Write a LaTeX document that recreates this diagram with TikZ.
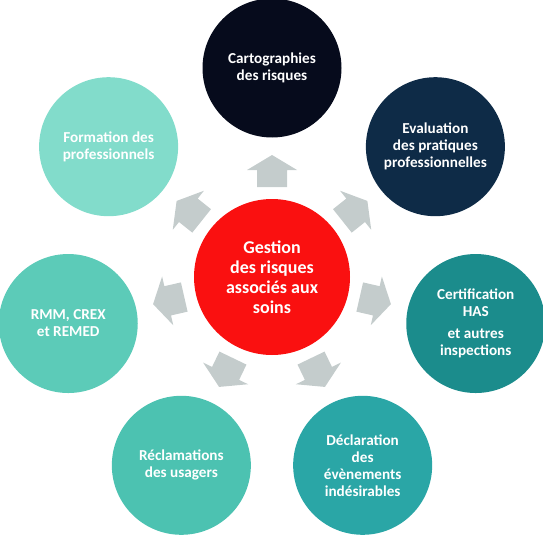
\documentclass[tikz,border=0pt]{standalone}
\usepackage{fontspec}
\setmainfont{Carlito}
\usetikzlibrary{calc}
\definecolor{cTop}{HTML}{060B1C}
\definecolor{cEval}{HTML}{0E2B47}
\definecolor{cCert}{HTML}{1B8C8C}
\definecolor{cDecl}{HTML}{2AA6A6}
\definecolor{cRecl}{HTML}{4CC2B1}
\definecolor{cRmm}{HTML}{5CCBB8}
\definecolor{cForm}{HTML}{82DCCB}
\definecolor{cRed}{HTML}{FA1010}
\definecolor{cArrow}{HTML}{C4CCCC}
\begin{document}
\begin{tikzpicture}[x=1pt,y=1pt,
  outer/.style={circle,minimum size=139pt,inner sep=0pt,text=white,align=center,
    font=\fontsize{15.2}{17}\selectfont\bfseries},
  hub/.style={circle,minimum size=156pt,inner sep=0pt,text=white,align=center,fill=cRed,
    font=\fontsize{18}{20}\selectfont\bfseries},
  blockarrow/.style={fill=cArrow,draw=none}]
\useasboundingbox (0,0) rectangle (543,542);
\coordinate (c) at (272,265);
\node[hub] (hub) at (c) {Gestion\\des risques\\associés aux\\soins};
\node[outer,fill=cTop]  (carto) at ($(c)+(90:209)$) {Cartographies\\des risques};
\node[outer,fill=cEval] (eval)  at ($(c)+(38.57:209)$) {Evaluation\\des pratiques\\professionnelles};
\node[outer,fill=cCert] (cert)  at ($(c)+(-12.86:209)$) {Certification\\HAS\\[5pt]et autres\\inspections};
\node[outer,fill=cDecl] (decl)  at ($(c)+(-64.29:209)$) {Déclaration\\des\\évènements\\indésirables};
\node[outer,fill=cRecl] (recl)  at ($(c)+(-115.71:209)$) {Réclamations\\des usagers};
\node[outer,fill=cRmm]  (rmm)   at ($(c)+(-167.14:209)$) {RMM, CREX\\et REMED};
\node[outer,fill=cForm] (form)  at ($(c)+(141.43:209)$) {Formation des\\professionnels};
\foreach \a in {90,38.57,-12.86,-64.29,-115.71,-167.14,141.43}{
  \begin{scope}[shift={(c)},rotate=\a]
    \fill[blockarrow] (90,-15) -- (107,-15) -- (107,-25) -- (122,0) -- (107,25) -- (107,15) -- (90,15) -- cycle;
  \end{scope}
}
\end{tikzpicture}
\end{document}
